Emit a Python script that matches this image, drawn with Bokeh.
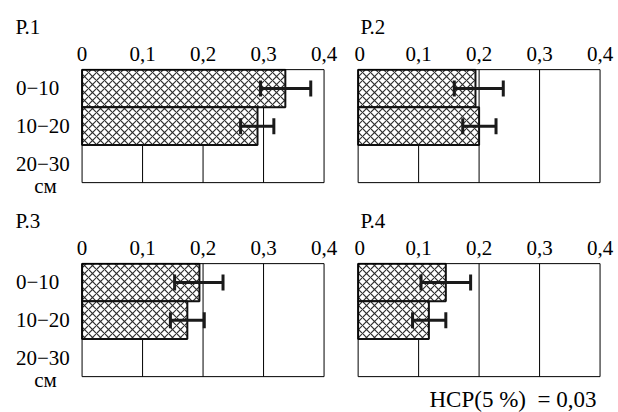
from bokeh.plotting import figure
from bokeh.layouts import column, row
from bokeh.models import Range1d, FixedTicker, Whisker, TeeHead, ColumnDataSource
from bokeh.core.properties import value
from bokeh.embed import file_html
from bokeh.resources import INLINE

# ---------------- data ----------------
depths = ["0\u221210", "10\u221220", "20\u221230"]
unit = "см"
panels = ["Р.1", "Р.2", "Р.3", "Р.4"]
x_ticks = [0, 0.1, 0.2, 0.3, 0.4]
x_tick_labels = ["0", "0,1", "0,2", "0,3", "0,4"]
# values for 0-10 and 10-20 cm layers
p1_values = [0.336, 0.290]
p1_lower = [0.295, 0.262]
p1_upper = [0.378, 0.317]
p2_values = [0.194, 0.200]
p2_lower = [0.159, 0.173]
p2_upper = [0.240, 0.228]
p3_values = [0.194, 0.174]
p3_lower = [0.153, 0.146]
p3_upper = [0.233, 0.202]
p4_values = [0.145, 0.117]
p4_lower = [0.104, 0.090]
p4_upper = [0.186, 0.145]
lsd_note = "НСР(5 %)\u00a0 = 0,03"

FONT = "'Liberation Serif', 'Times New Roman', serif"
FS = "21px"
X_PX = 605.0          # px per unit on x
ROW_PX = 113.0 / 3.0  # px per depth row
Y_TOP = 0.53


def make_panel(title, vals, lo, up, with_labels, frame_h, top_border, bottom_border, note=None):
    x0 = -0.115 if with_labels else -0.006
    x1 = 0.4057
    fw = int(round((x1 - x0) * X_PX))
    y_bottom = Y_TOP - frame_h / ROW_PX
    p = figure(frame_width=fw, frame_height=frame_h,
               x_range=Range1d(x0, x1), y_range=Range1d(y_bottom, Y_TOP),
               x_axis_location="above", y_axis_location=None,
               output_backend="svg", toolbar_location=None, tools="")
    p.min_border = 0
    p.min_border_left = 12 if with_labels else 0
    p.min_border_right = 27 if with_labels else 15
    p.min_border_top = top_border
    p.min_border_bottom = bottom_border
    p.outline_line_color = None
    p.background_fill_color = None
    p.border_fill_color = None
    p.xgrid.visible = False
    p.ygrid.visible = False

    ax = p.xaxis[0]
    ax.ticker = FixedTicker(ticks=x_ticks)
    ax.major_label_overrides = {t: l for t, l in zip(x_ticks, x_tick_labels)}
    ax.axis_line_color = None
    ax.major_tick_line_color = None
    ax.minor_tick_line_color = None
    ax.major_tick_out = 0
    ax.major_tick_in = 0
    ax.minor_tick_out = 0
    ax.minor_tick_in = 0
    ax.major_label_text_font = FONT
    ax.major_label_text_font_size = FS
    ax.major_label_text_color = "black"
    ax.major_label_standoff = 8

    p.title.text = title
    p.title.text_font = FONT
    p.title.text_font_size = FS
    p.title.text_font_style = "normal"
    p.title.text_color = "black"
    p.title.align = "left"
    p.title.offset = 3 if with_labels else 6
    p.title.standoff = 9

    n = len(depths)
    ys = [-i for i in range(n)]
    top = 0.5
    bottom = -(n - 1) - 0.5

    # gridlines inside the box
    inner = x_ticks[1:-1]
    p.segment(x0=inner, y0=[bottom] * len(inner), x1=inner, y1=[top] * len(inner),
              line_color="black", line_width=1)

    bar_y = ys[:len(vals)]
    p.hbar(y=bar_y, left=0, right=vals, height=1.0,
           fill_color="white", line_color="#111111", line_width=2,
           hatch_pattern="x", hatch_color="#2e2e2e", hatch_scale=8, hatch_weight=1.2)

    # frame box
    p.quad(left=[x_ticks[0]], right=[x_ticks[-1]], top=[top], bottom=[bottom],
           fill_color=None, line_color="black", line_width=1)

    src = ColumnDataSource(dict(base=bar_y, lower=lo, upper=up))
    w = Whisker(source=src, base="base", lower="lower", upper="upper",
                dimension="width", line_color="#1a1a1a", line_width=3,
                level="overlay",
                lower_head=TeeHead(size=16, line_width=3, line_color="#1a1a1a"),
                upper_head=TeeHead(size=16, line_width=3, line_color="#1a1a1a"))
    p.add_layout(w)

    if with_labels:
        lx = (15.5 - 81.6) / X_PX
        p.text(x=[lx] * n, y=ys, text=depths,
               text_font=value(FONT), text_font_size=value(FS),
               text_align="left", text_baseline="middle", text_color="black")
        ux = (45.0 - 81.6) / X_PX
        p.text(x=[ux], y=[ys[-1] - 0.58], text=[unit],
               text_font=value(FONT), text_font_size=value(FS),
               text_align="center", text_baseline="middle", text_color="black")
    if note is not None:
        p.text(x=[(596 - 357.6) / X_PX], y=[-3.10], text=[note],
               text_font=value(FONT), text_font_size=value("23px"),
               text_align="right", text_baseline="middle", text_color="black")
    return p


p1 = make_panel(panels[0], p1_values, p1_lower, p1_upper, True, 129, 68, 0)
p2 = make_panel(panels[1], p2_values, p2_lower, p2_upper, False, 129, 68, 0)
p3 = make_panel(panels[2], p3_values, p3_lower, p3_upper, True, 136, 65, 14)
p4 = make_panel(panels[3], p4_values, p4_lower, p4_upper, False, 150, 65, 0, note=lsd_note)

layout = column(row(p1, p2), row(p3, p4))
open("out.html", "w").write(file_html(layout, INLINE))
